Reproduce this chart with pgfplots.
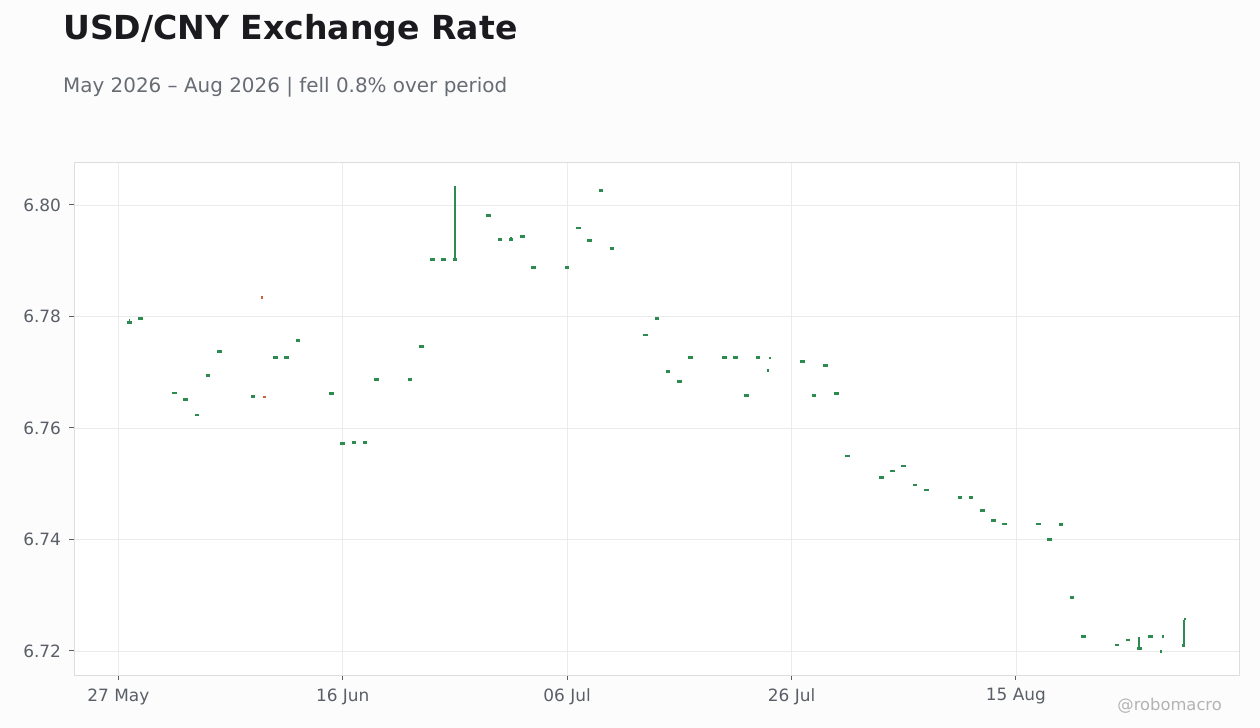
\documentclass[border=0pt]{standalone}
\usepackage{pgfplots}
\usepackage{pgfplotstable}
\pgfplotsset{compat=1.18}
\usepackage{fontspec}
\setmainfont{DejaVu Sans}
\definecolor{cgreen}{HTML}{2E8B50}
\definecolor{cred}{HTML}{D35F3A}
\definecolor{ctick}{HTML}{5A5E66}
\definecolor{cgrid}{HTML}{EBEBEB}
\definecolor{cframe}{HTML}{DDDDDD}
\definecolor{ctitle}{HTML}{1A1A1F}
\definecolor{csub}{HTML}{676B74}
\definecolor{cwm}{HTML}{B3B3B3}
\definecolor{cbg}{HTML}{FCFCFC}

\pgfdeclareplotmark{body}{\pgfpathrectangle{\pgfpoint{-2.3bp}{-1.3bp}}{\pgfpoint{4.6bp}{2.6bp}}\pgfusepathqfill}
\pgfdeclareplotmark{dot}{\pgfpathrectangle{\pgfpoint{-1.2bp}{-1.2bp}}{\pgfpoint{2.4bp}{2.4bp}}\pgfusepathqfill}

% day 0 = 27 May 2026
\pgfplotstableread{
d v
1 6.7789
2 6.7796
5 6.7663
6 6.7651
7 6.7623
8 6.7694
9 6.7737
12 6.7656
14 6.7726
15 6.7726
16 6.7757
19 6.7662
20 6.7572
21 6.7574
22 6.7574
23 6.7687
26 6.7687
27 6.7746
28 6.7902
29 6.7902
30 6.7902
33 6.7981
34 6.7938
35 6.7938
36 6.7943
37 6.7888
40 6.7888
41 6.7959
42 6.7936
43 6.8026
44 6.7922
47 6.7767
48 6.7796
49 6.7701
50 6.7683
51 6.7726
54 6.7726
55 6.7726
56 6.7658
57 6.7726
61 6.7719
62 6.7658
63 6.7712
64 6.7662
65 6.7550
68 6.7511
69 6.7523
70 6.7532
71 6.7498
72 6.7489
75 6.7475
76 6.7475
77 6.7452
78 6.7434
79 6.7428
82 6.7428
83 6.7400
84 6.7427
85 6.7296
86 6.7226
89 6.7211
90 6.7220
91 6.7204
92 6.7226
}\bodies

\begin{document}
\begin{tikzpicture}
\path[use as bounding box, fill=cbg] (0,0) rectangle (1260bp,728bp);
\node[anchor=base west, font=\fontsize{33.2}{40}\selectfont\bfseries, text=ctitle, inner sep=0] at (63bp,688bp) {USD/CNY Exchange Rate};
\node[anchor=base west, font=\fontsize{20}{24}\selectfont, text=csub, inner sep=0] at (63bp,635bp) {May 2026 – Aug 2026 | fell 0.8\% over period};
\begin{axis}[at={(74bp,53bp)}, anchor=south west, scale only axis,
  width=1165bp, height=513bp,
  xmin=-3.95, xmax=99.88, ymin=6.715695, ymax=6.80771,
  axis background/.style={fill=white},
  axis line style={cframe, line width=1bp},
  grid=major, major grid style={cgrid, line width=0.9bp},
  xtick={0,20,40,60,80}, xticklabels={27 May,16 Jun,06 Jul,26 Jul,15 Aug},
  ytick={6.72,6.74,6.76,6.78,6.80},
  tick align=outside, major tick length=5bp, tick pos=left,
  tick style={ctick, line width=1bp},
  ticklabel style={font=\fontsize{17}{20}\selectfont, text=ctick},
  xticklabel style={yshift=-5bp},
  yticklabel style={xshift=-4.5bp, /pgf/number format/.cd, fixed, fixed zerofill, precision=2, assume math mode=true},
]
\addplot[only marks, mark=body, color=cgreen] table[x=d, y=v] \bodies;
\addplot[cgreen, line width=1.8bp, unbounded coords=jump] coordinates {
 (1,6.7789) (1,6.7796) (1,nan)
 (30,6.7902) (30,6.8034) (30,nan)
 (35,6.7938) (35,6.7943) (35,nan)
 (91,6.7204) (91,6.7225) (91,nan)
 (95,6.7208) (95,6.7256)};
\addplot[only marks, mark=dot, color=cgreen] coordinates {
 (57.9,6.7703) (58.1,6.7726) (92.95,6.7199) (93.1,6.7226) (94.88,6.7210) (95.08,6.7257)};
\addplot[only marks, mark=dot, color=cred] coordinates {(12.83,6.7834) (13.01,6.7656)};
\end{axis}
\node[anchor=base east, font=\fontsize{16.4}{19}\selectfont, text=cwm, inner sep=0] at (1222bp,18bp) {@robomacro};
\end{tikzpicture}
\end{document}
